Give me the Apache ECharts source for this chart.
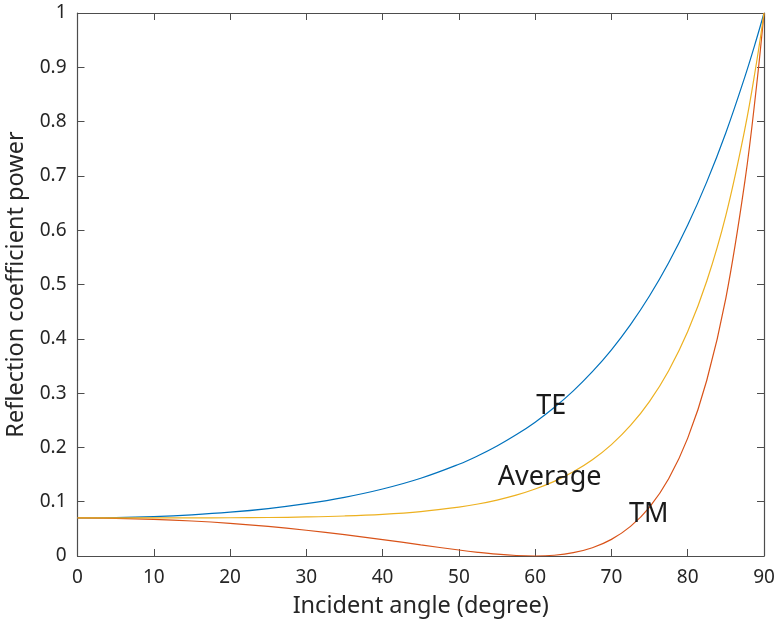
<!DOCTYPE html>
<html>
<head>
<meta charset="utf-8">
<script src="https://cdn.jsdelivr.net/npm/echarts@6/dist/echarts.min.js"></script>
<style>
html, body { margin: 0; padding: 0; background: #fff; }
#chart { width: 778px; height: 624px; }
</style>
</head>
<body>
<div id="chart"></div>
<script>
// incident angle (degree)
var angles = [0, 5, 10, 15, 20, 25, 30, 35, 40, 45, 50, 52.5, 55, 57.5, 60, 62.5, 65, 67.5, 70, 72.5, 75, 77.5, 80, 82.5, 85, 87.5, 89, 90];
var te = [0.0701, 0.0707, 0.0726, 0.0759, 0.0807, 0.0874, 0.0964, 0.1081, 0.1234, 0.1432, 0.1690, 0.1846, 0.2026, 0.2231, 0.2465, 0.2734, 0.3041, 0.3394, 0.3798, 0.4262, 0.4793, 0.5401, 0.6095, 0.6890, 0.7796, 0.8829, 0.9512, 1];
var tm = [0.0701, 0.0694, 0.0676, 0.0645, 0.0601, 0.0544, 0.0474, 0.0393, 0.0302, 0.0205, 0.0110, 0.0068, 0.0033, 0.0009, 0.0000, 0.0014, 0.0061, 0.0152, 0.0306, 0.0545, 0.0902, 0.1424, 0.2171, 0.3237, 0.4751, 0.6909, 0.8628, 1];
var avg = [0.0701, 0.0701, 0.0701, 0.0702, 0.0704, 0.0709, 0.0719, 0.0737, 0.0768, 0.0819, 0.0900, 0.0957, 0.1030, 0.1120, 0.1233, 0.1374, 0.1551, 0.1773, 0.2052, 0.2404, 0.2848, 0.3413, 0.4133, 0.5064, 0.6274, 0.7869, 0.9070, 1];

var labelPos = { TE: [62.1, 0.276], Average: [61.9, 0.144], TM: [74.9, 0.077] };

var font = 'Noto Sans';
var axisColor = '#4d4d4d';
var textColor = '#262626';

function pairs(vals) {
	var out = [];
	for (var i = 0; i < angles.length; i++) {
		out.push([angles[i], vals[i]]);
	}
	return out;
}

function curve(name, vals, color) {
	return {
		name: name,
		type: 'line',
		data: pairs(vals),
		smooth: 0.4,
		showSymbol: false,
		lineStyle: { color: color, width: 1.2 },
		markPoint: {
			symbol: 'circle',
			symbolSize: 0,
			data: [{ coord: labelPos[name], value: name }],
			label: {
				show: true,
				position: 'inside',
				formatter: name,
				color: '#1a1a1a',
				fontFamily: font,
				fontSize: 27
			}
		}
	};
}

var chart = echarts.init(document.getElementById('chart'));
chart.setOption({
	animation: false,
	grid: { left: 77.5, right: 14, top: 13, bottom: 68, outerBoundsMode: 'none' },
	xAxis: [{
		type: 'value',
		min: 0, max: 90, interval: 10,
		name: 'Incident angle (degree)',
		nameLocation: 'middle',
		nameGap: 38,
		nameTextStyle: { fontFamily: font, fontSize: 23.5, color: textColor },
		axisLine: { onZero: false, lineStyle: { color: axisColor, width: 1.2 } },
		axisTick: { inside: true, length: 7, lineStyle: { color: axisColor } },
		axisLabel: { fontFamily: font, fontSize: 19, color: textColor, margin: 12 },
		splitLine: { show: false }
	}, {
		type: 'value',
		position: 'top',
		min: 0, max: 90, interval: 10,
		axisLine: { onZero: false, lineStyle: { color: axisColor, width: 1.2 } },
		axisTick: { inside: true, length: 7, lineStyle: { color: axisColor } },
		axisLabel: { show: false },
		splitLine: { show: false }
	}],
	yAxis: [{
		type: 'value',
		min: 0, max: 1, interval: 0.1,
		name: 'Reflection coefficient power',
		nameLocation: 'middle',
		nameGap: 48,
		nameTextStyle: { fontFamily: font, fontSize: 23.5, color: textColor },
		axisLine: { show: true, onZero: false, lineStyle: { color: axisColor, width: 1.2 } },
		axisTick: { show: true, inside: true, length: 7, lineStyle: { color: axisColor } },
		axisLabel: {
			fontFamily: font, fontSize: 19, color: textColor, margin: 11,
			formatter: function (v) { return +v.toFixed(1) + ''; }
		},
		splitLine: { show: false }
	}, {
		type: 'value',
		position: 'right',
		min: 0, max: 1, interval: 0.1,
		axisLine: { show: true, onZero: false, lineStyle: { color: axisColor, width: 1.2 } },
		axisTick: { show: true, inside: true, length: 7, lineStyle: { color: axisColor } },
		axisLabel: { show: false },
		splitLine: { show: false }
	}],
	series: [
		curve('TE', te, '#0072BD'),
		curve('TM', tm, '#D95319'),
		curve('Average', avg, '#EDB120')
	]
});
</script>
</body>
</html>
